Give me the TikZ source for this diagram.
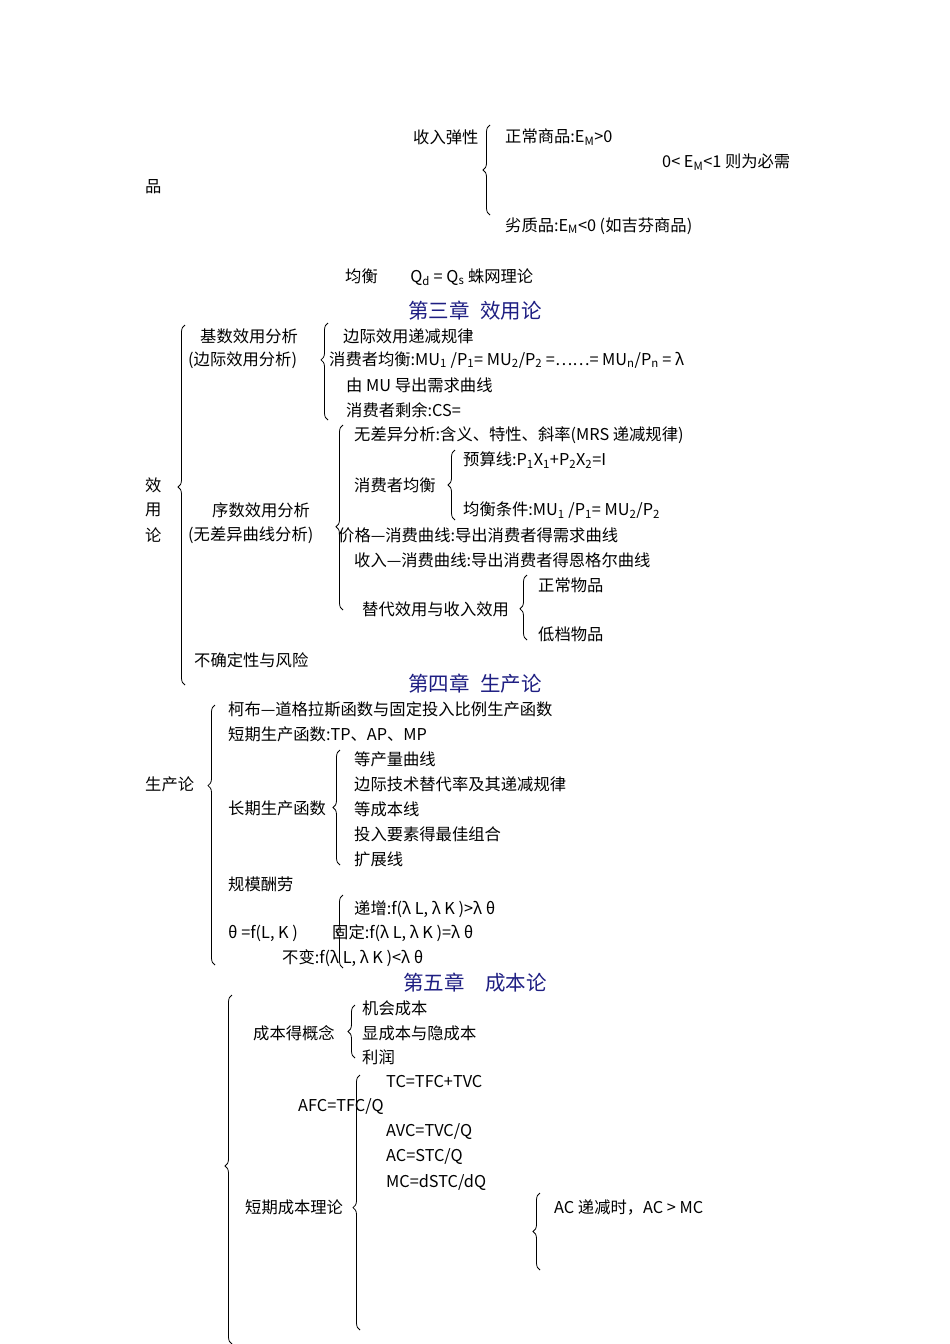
\documentclass[tikz,border=0pt]{standalone}
\usepackage{fontspec}
\setmainfont{Noto Sans CJK SC}
\usetikzlibrary{decorations.pathreplacing}
\definecolor{navy}{RGB}{30,30,130}
\tikzset{
 t/.style={anchor=west,inner sep=0pt,font=\fontsize{16.3}{18}\selectfont},
 hd/.style={inner sep=0pt,font=\fontsize{20.5}{24}\selectfont,text=navy},
 br/.style={decorate,decoration={brace,amplitude=7pt,aspect=#1},line width=0.8pt},
 br/.default=0.5
}
\newcommand{\sub}[1]{\textsubscript{#1}}
\begin{document}
\begin{tikzpicture}[x=1pt,y=-1pt]
\useasboundingbox (0,0) rectangle (950,1344);
% income elasticity
\node[t] (a1) at (413,137) {收入弹性};
\coordinate (b1t) at (490,125); \coordinate (b1b) at (490,215);
\draw[br=0.5] (b1b) -- (b1t);
\node[t] (a2) at (505,137) {正常商品:E\sub{M}>0};
\node[t] (a3) at (662,162) {0< E\sub{M}<1 则为必需};
\node[t] (a4) at (145,187) {品};
\node[t] (a5) at (505,226) {劣质品:E\sub{M}<0 (如吉芬商品)};
\node[t] (a6) at (345,277) {均衡\hspace{2em}Q\sub{d} = Q\sub{s} 蛛网理论};
% chapter 3
\node[hd] (h3) at (475,311) {第三章\hspace{0.5em}效用论};
\coordinate (c1t) at (185,325); \coordinate (c1b) at (185,685);
\draw[br=0.55] (c1b) -- (c1t);
\node[t] (x1) at (145,485) {效};
\node[t] (x2) at (145,510) {用};
\node[t] (x3) at (145,535) {论};
\node[t] (j1) at (200,336) {基数效用分析};
\node[t] (j2) at (188,360) {(边际效用分析)};
\coordinate (c2t) at (328,323); \coordinate (c2b) at (328,420);
\draw[br=0.62] (c2b) -- (c2t);
\node[t] (j3) at (343,336) {边际效用递减规律};
\node[t] (j4) at (329,360) {消费者均衡:MU\sub{1} /P\sub{1}= MU\sub{2}/P\sub{2} =……= MU\sub{n}/P\sub{n} = λ};
\node[t] (j5) at (346,385) {由 MU 导出需求曲线};
\node[t] (j6) at (346,410) {消费者剩余:CS=};
\coordinate (c3t) at (343,425); \coordinate (c3b) at (343,610);
\draw[br=0.45] (c3b) -- (c3t);
\node[t] (k1) at (354,435) {无差异分析:含义、特性、斜率(MRS 递减规律)};
\node[t] (k2) at (354,485) {消费者均衡};
\coordinate (c4t) at (455,450); \coordinate (c4b) at (455,520);
\draw[br=0.5] (c4b) -- (c4t);
\node[t] (k3) at (463,460) {预算线:P\sub{1}X\sub{1}+P\sub{2}X\sub{2}=I};
\node[t] (k4) at (463,510) {均衡条件:MU\sub{1} /P\sub{1}= MU\sub{2}/P\sub{2}};
\node[t] (k5) at (212,510) {序数效用分析};
\node[t] (k6) at (188,535) {(无差异曲线分析)};
\node[t] (k7) at (338,535) {价格—消费曲线:导出消费者得需求曲线};
\node[t] (k8) at (354,560) {收入—消费曲线:导出消费者得恩格尔曲线};
\node[t] (k9) at (362,609) {替代效用与收入效用};
\coordinate (c5t) at (527,575); \coordinate (c5b) at (527,640);
\draw[br=0.48] (c5b) -- (c5t);
\node[t] (k10) at (538,585) {正常物品};
\node[t] (k11) at (538,634) {低档物品};
\node[t] (k12) at (194,660) {不确定性与风险};
% chapter 4
\node[hd] (h4) at (475,684) {第四章\hspace{0.5em}生产论};
\coordinate (d1t) at (215,705); \coordinate (d1b) at (215,965);
\draw[br=0.69] (d1b) -- (d1t);
\node[t] (p0) at (145,784) {生产论};
\node[t] (p1) at (228,709) {柯布—道格拉斯函数与固定投入比例生产函数};
\node[t] (p2) at (228,734) {短期生产函数:TP、AP、MP};
\node[t] (p3) at (228,808) {长期生产函数};
\coordinate (d2t) at (340,750); \coordinate (d2b) at (340,865);
\draw[br=0.5] (d2b) -- (d2t);
\node[t] (p4) at (354,759) {等产量曲线};
\node[t] (p5) at (354,784) {边际技术替代率及其递减规律};
\node[t] (p6) at (354,809) {等成本线};
\node[t] (p7) at (354,834) {投入要素得最佳组合};
\node[t] (p8) at (354,859) {扩展线};
\node[t] (p9) at (228,884) {规模酬劳};
\coordinate (d3t) at (343,895); \coordinate (d3b) at (343,968);
\draw[br=0.5] (d3b) -- (d3t);
\node[t] (q1) at (354,909) {递增:f(λ \textit{L}, λ \textit{K} )>λ θ};
\node[t] (q2) at (228,933) {θ =f(\textit{L}, \textit{K} )};
\node[t] (q3) at (332,933) {固定:f(λ \textit{L}, λ \textit{K} )=λ θ};
\node[t] (q4) at (282,958) {不变:f(λ \textit{L}, λ \textit{K} )<λ θ};
% chapter 5
\node[hd] (h5) at (475,983) {第五章\hspace{1em}成本论};
\coordinate (e1t) at (232,995); \coordinate (e1b) at (232,1344);
\draw[br=0.51] (e1b) -- (e1t);
\node[t] (r1) at (253,1033) {成本得概念};
\coordinate (e2t) at (355,1005); \coordinate (e2b) at (355,1058);
\draw[br=0.5] (e2b) -- (e2t);
\node[t] (r2) at (362,1008) {机会成本};
\node[t] (r3) at (362,1033) {显成本与隐成本};
\node[t] (r4) at (362,1057) {利润};
\coordinate (e3t) at (360,1075); \coordinate (e3b) at (360,1330);
\draw[br=0.48] (e3b) -- (e3t);
\node[t] (s1) at (386,1082) {TC=TFC+TVC};
\node[t] (s2) at (298,1107) {AFC=TFC/Q};
\node[t] (s3) at (386,1132) {AVC=TVC/Q};
\node[t] (s4) at (386,1157) {AC=STC/Q};
\node[t] (s5) at (386,1182) {MC=dSTC/dQ};
\node[t] (s6) at (245,1207) {短期成本理论};
\coordinate (e4t) at (540,1193); \coordinate (e4b) at (540,1270);
\draw[br=0.5] (e4b) -- (e4t);
\node[t] (s7) at (554,1207) {AC 递减时，AC > MC};
\end{tikzpicture}
\end{document}
